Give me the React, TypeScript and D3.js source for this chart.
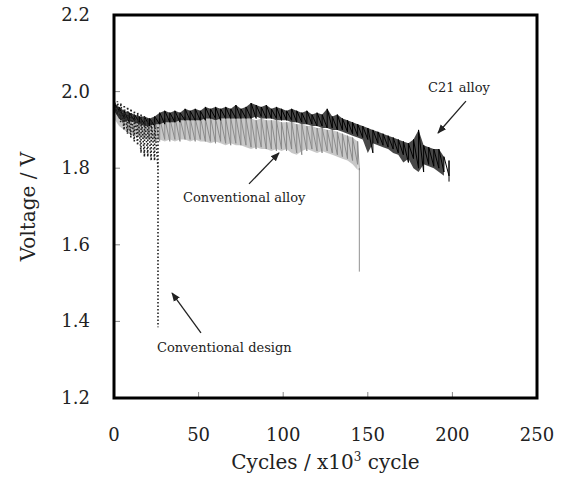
import React from "react";
import * as d3 from "d3";

// ---- Data ----
const c21Cycles = [0,3,6,9,12,15,18,21,24,27,30,33,36,39,42,45,48,51,54,57,60,63,66,69,72,75,78,81,84,87,90,93,96,99,102,105,108,111,114,117,120,123,126,129,132,135,138,141,144,147,150,153,156,159,162,165,168,171,174,177,180,183,186,189,192,195,198];
const c21High = [1.97,1.96,1.95,1.945,1.94,1.935,1.935,1.93,1.935,1.945,1.95,1.945,1.95,1.945,1.955,1.95,1.955,1.95,1.96,1.955,1.96,1.955,1.96,1.955,1.965,1.955,1.96,1.97,1.965,1.96,1.965,1.955,1.96,1.955,1.95,1.955,1.95,1.945,1.95,1.94,1.945,1.94,1.955,1.935,1.94,1.93,1.925,1.92,1.915,1.91,1.905,1.9,1.895,1.89,1.885,1.88,1.875,1.87,1.865,1.875,1.9,1.86,1.855,1.85,1.85,1.83,1.82];
const c21Low = [1.95,1.93,1.92,1.925,1.92,1.915,1.91,1.91,1.915,1.915,1.92,1.92,1.92,1.925,1.925,1.925,1.925,1.925,1.93,1.93,1.925,1.93,1.93,1.93,1.93,1.93,1.93,1.93,1.935,1.93,1.93,1.93,1.925,1.925,1.925,1.92,1.92,1.915,1.915,1.91,1.91,1.905,1.905,1.9,1.9,1.895,1.89,1.885,1.88,1.875,1.84,1.865,1.86,1.855,1.85,1.84,1.835,1.815,1.825,1.8,1.79,1.81,1.805,1.8,1.79,1.78,1.765];

const convAlloyCycles = [0,3,6,9,12,15,18,21,24,27,30,33,36,39,42,45,48,51,54,57,60,63,66,69,72,75,78,81,84,87,90,93,96,99,102,105,108,111,114,117,120,123,126,129,132,135,138,141,144,145];
const convAlloyHigh = [1.96,1.95,1.94,1.935,1.93,1.93,1.925,1.925,1.93,1.93,1.93,1.93,1.935,1.93,1.935,1.93,1.93,1.935,1.93,1.935,1.93,1.93,1.93,1.93,1.935,1.93,1.93,1.93,1.925,1.93,1.925,1.925,1.925,1.92,1.92,1.92,1.915,1.915,1.91,1.91,1.905,1.905,1.9,1.9,1.895,1.89,1.885,1.88,1.87,1.8];
const convAlloyLow = [1.93,1.91,1.9,1.89,1.885,1.88,1.875,1.875,1.87,1.875,1.87,1.875,1.87,1.875,1.875,1.87,1.875,1.87,1.87,1.865,1.87,1.865,1.86,1.865,1.86,1.86,1.855,1.85,1.855,1.85,1.85,1.845,1.85,1.845,1.85,1.84,1.835,1.845,1.85,1.845,1.84,1.845,1.84,1.835,1.83,1.825,1.82,1.81,1.795,1.53];

const convDesignCycles = [0,2,4,6,8,10,12,14,16,18,20,22,24,26];
const convDesignHigh = [1.98,1.975,1.97,1.965,1.96,1.955,1.95,1.945,1.94,1.935,1.93,1.925,1.92,1.91];
const convDesignLow = [1.94,1.92,1.9,1.89,1.88,1.87,1.86,1.84,1.83,1.83,1.82,1.82,1.8,1.385];

const xTicks = [0, 50, 100, 150, 200, 250];
const yTicks = [1.2, 1.4, 1.6, 1.8, 2.0, 2.2];

const annotations = [
  { text: "C21 alloy", tx: 185.6, ty: 2.012, from: [208, 1.975], to: [191.5, 1.892] },
  { text: "Conventional alloy", tx: 40.8, ty: 1.725, from: [79.8, 1.759], to: [97.5, 1.84] },
  { text: "Conventional design", tx: 25.4, ty: 1.333, from: [51.4, 1.37], to: [34.3, 1.474] },
];

const W = 563, H = 479;
const M = { left: 114, right: 537, top: 15, bottom: 398 };
const FONT = "'DejaVu Serif', serif";

function sawtooth(cs: number[], hi: number[], lo: number[]): [number, number][] {
  const pts: [number, number][] = [];
  for (let i = 0; i < cs.length; i++) {
    pts.push([cs[i], hi[i]]);
    const nextC = i < cs.length - 1 ? cs[i + 1] : cs[i];
    pts.push([nextC, lo[i]]);
  }
  return pts;
}

export default function App() {
  const x = d3.scaleLinear().domain([0, 250]).range([M.left, M.right]);
  const y = d3.scaleLinear().domain([1.2, 2.2]).range([M.bottom, M.top]);
  const line = d3.line<[number, number]>().x((d) => x(d[0])).y((d) => y(d[1]));

  const bandArea = (cs: number[], hi: number[], lo: number[]) =>
    d3
      .area<number>()
      .x((i) => x(cs[i]))
      .y0((i) => y(lo[i]))
      .y1((i) => y(hi[i]))(d3.range(cs.length - 1)) || "";

  const c21 = sawtooth(c21Cycles, c21High, c21Low);
  const ca = sawtooth(convAlloyCycles, convAlloyHigh, convAlloyLow);
  const cd = sawtooth(convDesignCycles, convDesignHigh, convDesignLow);

  return (
    <svg width={W} height={H} style={{ position: "absolute", left: 0, top: 0, background: "#fff" }}>
      <defs>
        <marker id="arr" viewBox="0 0 10 10" refX="9" refY="5" markerWidth="7" markerHeight="7" orient="auto">
          <path d="M0,1 L10,5 L0,9 Z" fill="#222" />
        </marker>
      </defs>
      <rect x={0} y={0} width={W} height={H} fill="#fff" />

      {/* ticks */}
      {xTicks.map((t) => (
        <line key={"xt" + t} x1={x(t)} x2={x(t)} y1={M.bottom} y2={M.bottom - 6} stroke="#888" strokeWidth={1} />
      ))}
      {yTicks.map((t) => (
        <line key={"yt" + t} x1={M.left} x2={M.left + 6} y1={y(t)} y2={y(t)} stroke="#888" strokeWidth={1} />
      ))}

      {/* conventional alloy (grey) */}
      <path d={bandArea(convAlloyCycles, convAlloyHigh, convAlloyLow)} fill="#b4b4b4" opacity={0.75} />
      <path d={line(ca) || ""} fill="none" stroke="#858585" strokeWidth={0.9} />

      {/* C21 alloy (black) */}
      <path d={bandArea(c21Cycles, c21High, c21Low)} fill="#1a1a1a" opacity={0.8} />
      <path d={line(c21) || ""} fill="none" stroke="#000" strokeWidth={1} />

      {/* conventional design (dotted) */}
      <path d={line(cd) || ""} fill="none" stroke="#222" strokeWidth={1.6} strokeDasharray="1.5,2" />

      {/* frame */}
      <rect x={M.left} y={M.top} width={M.right - M.left} height={M.bottom - M.top} fill="none" stroke="#000" strokeWidth={3} />

      {/* tick labels */}
      {xTicks.map((t) => (
        <text key={"xl" + t} x={x(t)} y={441} textAnchor="middle" fontFamily={FONT} fontSize={18} fill="#222">
          {t}
        </text>
      ))}
      {yTicks.map((t) => (
        <text key={"yl" + t} x={90} y={y(t) + 6} textAnchor="end" fontFamily={FONT} fontSize={18} fill="#222">
          {t.toFixed(1)}
        </text>
      ))}

      {/* axis titles */}
      <text x={(M.left + M.right) / 2} y={469} textAnchor="middle" fontFamily={FONT} fontSize={20} fill="#222">
        Cycles / x10<tspan dy={-8} fontSize={12}>3</tspan><tspan dy={8}> cycle</tspan>
      </text>
      <text
        transform={`translate(35,${(M.top + M.bottom) / 2}) rotate(-90)`}
        textAnchor="middle"
        fontFamily={FONT}
        fontSize={20}
        fill="#222"
      >
        Voltage / V
      </text>

      {/* annotations */}
      {annotations.map((a) => (
        <g key={a.text}>
          <line
            x1={x(a.from[0])}
            y1={y(a.from[1])}
            x2={x(a.to[0])}
            y2={y(a.to[1])}
            stroke="#222"
            strokeWidth={1.3}
            markerEnd="url(#arr)"
          />
          <text x={x(a.tx)} y={y(a.ty) + 5} fontFamily={FONT} fontSize={13} fill="#222">
            {a.text}
          </text>
        </g>
      ))}
    </svg>
  );
}
